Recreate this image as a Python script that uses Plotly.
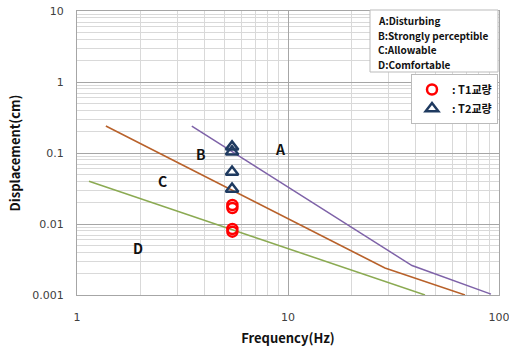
import math
import plotly.graph_objects as go

# Criteria lines (frequency Hz, displacement cm)
a_freq = [3.5, 38.7, 91.6]
a_disp = [0.24, 0.0026, 0.00103]
b_freq = [1.37, 28.8, 69.0]
b_disp = [0.24, 0.0024, 0.001]
c_freq = [1.14, 44.6]
c_disp = [0.040, 0.001]

# Measured points
t1_freq = [5.45, 5.45, 5.45, 5.45]
t1_disp = [0.0185, 0.0168, 0.0085, 0.0078]
t2_freq = [5.43, 5.43, 5.43, 5.43]
t2_disp = [0.122, 0.104, 0.054, 0.031]

# Zone labels
zone_text = ["A", "B", "C", "D"]
zone_x = [9.2, 3.87, 2.53, 1.95]
zone_y = [0.114, 0.096, 0.040, 0.0046]

legend_lines = ["A:Disturbing", "B:Strongly perceptible", "C:Allowable", "D:Comfortable"]

x_tickvals = [1, 10, 100]
x_ticktext = ["1", "10", "100"]
y_tickvals = [0.001, 0.01, 0.1, 1, 10]
y_ticktext = ["0.001", "0.01", "0.1", "1", "10"]

FONT = "Noto Sans CJK KR"
W, H = 509, 353
ML, MR, MT, MB = 77, 10, 11, 58
PW, PH = W - ML - MR, H - MT - MB


def px(xp):
    return (xp - ML) / PW


def py(yp):
    return (H - MB - yp) / PH


fig = go.Figure()
fig.add_trace(go.Scatter(x=a_freq, y=a_disp, mode="lines", line=dict(color="#7E62A8", width=1.5), showlegend=False))
fig.add_trace(go.Scatter(x=b_freq, y=b_disp, mode="lines", line=dict(color="#B8612A", width=1.5), showlegend=False))
fig.add_trace(go.Scatter(x=c_freq, y=c_disp, mode="lines", line=dict(color="#8BAA52", width=1.5), showlegend=False))
fig.add_trace(go.Scatter(x=t1_freq, y=t1_disp, mode="markers", name="<b>: T1교량</b>",
                         marker=dict(symbol="circle-open", size=10, color="#FF0000", line=dict(width=2.5, color="#FF0000"))))
fig.add_trace(go.Scatter(x=t2_freq, y=t2_disp, mode="markers", name="<b>: T2교량</b>",
                         marker=dict(symbol="triangle-up-open", size=11, color="#1F3A60", line=dict(width=2.5, color="#1F3A60"))))

for t, x, y in zip(zone_text, zone_x, zone_y):
    fig.add_annotation(x=math.log10(x), y=math.log10(y), xref="x", yref="y", text="<b>%s</b>" % t,
                       showarrow=False, font=dict(family=FONT, size=14, color="#111111"))

# Criteria text box
fig.add_shape(type="rect", xref="paper", yref="paper", x0=px(370), x1=px(498), y0=py(72), y1=py(10),
              line=dict(color="#BBBBBB", width=1), fillcolor="white", layer="above")
for i, s in enumerate(legend_lines):
    fig.add_annotation(xref="paper", yref="paper", x=px(376), y=py(21 + i * 14.4), xanchor="left", yanchor="middle",
                       text="<b>%s</b>" % s, showarrow=False, font=dict(family=FONT, size=10, color="#111111"))

fig.update_layout(
    width=W, height=H,
    margin=dict(l=ML, r=MR, t=MT, b=MB),
    paper_bgcolor="white", plot_bgcolor="white",
    font=dict(family=FONT, color="#333333"),
    legend=dict(x=px(498), y=py(74), xanchor="right", yanchor="top", bgcolor="white",
                bordercolor="#BBBBBB", borderwidth=1, font=dict(family=FONT, size=11, color="#111111"),
                itemwidth=30, tracegroupgap=2),
)
fig.update_xaxes(type="log", range=[0, 2], tickvals=x_tickvals, ticktext=x_ticktext, automargin=False,
                 ticklabeloverflow="allow",
                 showgrid=True, gridcolor="#A6A6A6", gridwidth=1,
                 minor=dict(dtick="D1", showgrid=True, gridcolor="#D9D9D9", gridwidth=1),
                 showline=True, linecolor="#A6A6A6", mirror=True, ticks="", ticklabelstandoff=12,
                 tickfont=dict(family="DejaVu Sans", size=11, color="#404040"),
                 title=dict(text="<b>Frequency(Hz)</b>", font=dict(family=FONT, size=13, color="#111111"), standoff=10),
                 zeroline=False)
fig.update_yaxes(type="log", range=[-3, 1], tickvals=y_tickvals, ticktext=y_ticktext, automargin=False,
                 ticklabeloverflow="allow",
                 showgrid=True, gridcolor="#A6A6A6", gridwidth=1,
                 minor=dict(dtick="D1", showgrid=True, gridcolor="#D9D9D9", gridwidth=1),
                 showline=True, linecolor="#A6A6A6", mirror=True, ticks="", ticklabelstandoff=10,
                 tickfont=dict(family="DejaVu Sans", size=11, color="#404040"),
                 title=dict(text="<b>Displacement(cm)</b>", font=dict(family=FONT, size=13, color="#111111"), standoff=8),
                 zeroline=False)

fig.write_html("out.html")
